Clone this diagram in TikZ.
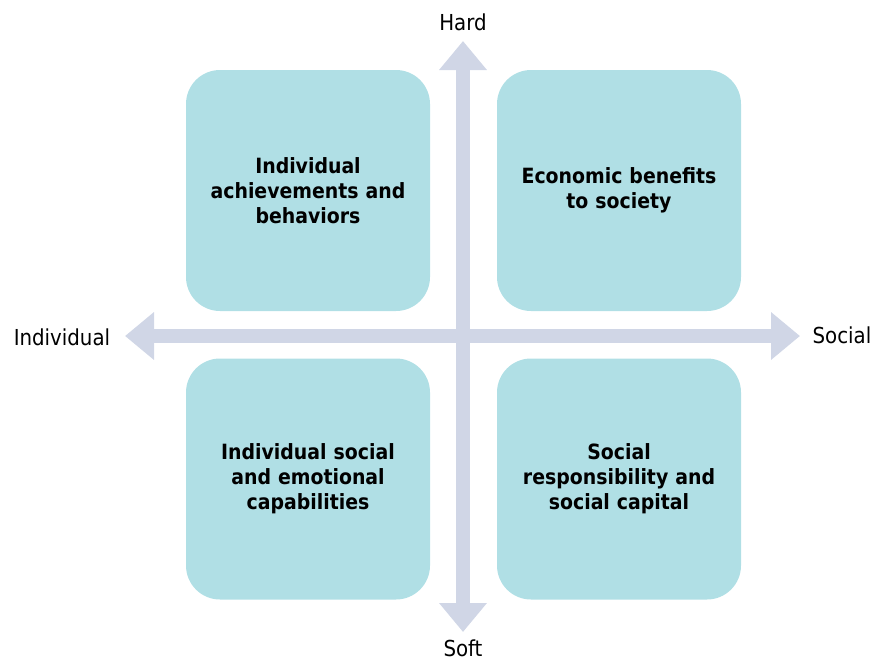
\documentclass[tikz,border=0pt]{standalone}
\usepackage{fontspec}
\setmainfont{DejaVu Sans Condensed}
\usetikzlibrary{arrows.meta,positioning}
\definecolor{qfill}{HTML}{B0DFE5}
\definecolor{qaxis}{HTML}{D0D6E6}
\tikzset{
  quad/.style ={rectangle, rounded corners=34pt, fill=qfill, draw=none,
                minimum width=244pt, minimum height=241pt, inner sep=0pt,
                align=center, text width=230pt, font=\fontsize{21}{25}\selectfont\bfseries},
  axis/.style ={{Triangle[width=46pt,length=29pt]}-{Triangle[width=46pt,length=29pt]},
                line width=14pt, draw=qaxis},
  pole/.style ={font=\fontsize{22}{24}\selectfont, inner sep=0pt}
}

\begin{document}
\begin{tikzpicture}[x=1pt, y=-1pt]
  \useasboundingbox (0,0) rectangle (875,662);
  % the two axes
  \coordinate (up)   at (463,41);
  \coordinate (down) at (463,632);
  \coordinate (lft)  at (125,336);
  \coordinate (rgt)  at (800,336);
  \draw[axis] (down) -- (up);
  \draw[axis] (lft) -- (rgt);
  \node[pole] (hard) at (463,22)  {Hard};
  \node[pole] (soft) at (463,648) {Soft};
  \node[pole] (indv) at (62,337)  {Individual};
  \node[pole] (socl) at (842,335) {Social};
  % quadrants
  \node[quad] (ach) at (308,190.5) {Individual\\achievements and\\behaviors};
  \node[quad] (eco) at (619,190.5) {Economic benefits\\to society};
  \node[quad] (emo) at (308,479)   {Individual social\\and emotional\\capabilities};
  \node[quad] (cap) at (619,479)   {Social\\responsibility and\\social capital};
\end{tikzpicture}
\end{document}
